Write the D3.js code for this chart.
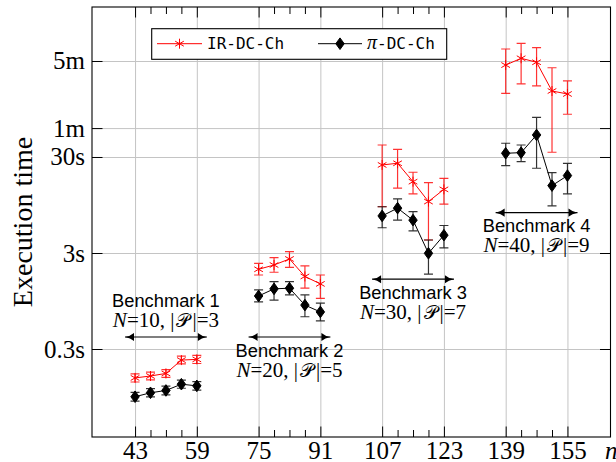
<!DOCTYPE html>
<html>
<head>
<meta charset="utf-8">
<script src="https://cdn.jsdelivr.net/npm/d3@7"></script>
<style>
  body { margin: 0; background: #fff; }
  svg { display: block; }
</style>
</head>
<body>
<svg id="chart" width="616" height="462"></svg>
<script>
/* global d3 */

// problem sizes n, one group of five per benchmark
const nValues = [
  [43, 47, 51, 55, 59],
  [75, 79, 83, 87, 91],
  [107, 111, 115, 119, 123],
  [139, 143, 147, 151, 155],
];

// IR-DC-Ch execution time in seconds (mean, lower and upper end of error bar)
const irMean = [
  [0.150, 0.157, 0.167, 0.230, 0.234],
  [2.03, 2.25, 2.60, 1.71, 1.43],
  [24.8, 25.8, 16.6, 10.3, 13.8],
  [272, 320, 291, 146, 136],
];
const irLow = [
  [0.136, 0.143, 0.152, 0.210, 0.212],
  [1.77, 1.89, 2.13, 1.29, 1.01],
  [9.1, 14.2, 12.4, 4.1, 9.7],
  [138, 173, 165, 33.6, 83.6],
];
const irHigh = [
  [0.165, 0.172, 0.183, 0.253, 0.258],
  [2.34, 2.68, 3.10, 2.20, 1.77],
  [40.0, 36.1, 20.8, 16.2, 18.0],
  [400, 458, 413, 255, 186],
];

// pi-DC-Ch execution time in seconds
const piMean = [
  [0.0955, 0.105, 0.111, 0.129, 0.124],
  [1.07, 1.27, 1.29, 0.86, 0.73],
  [7.3, 8.8, 6.6, 2.98, 4.6],
  [32.8, 33.3, 50.9, 15.1, 19.2],
];
const piLow = [
  [0.086, 0.095, 0.100, 0.117, 0.112],
  [0.93, 0.97, 1.10, 0.65, 0.59],
  [5.5, 6.6, 5.1, 1.81, 3.4],
  [24.4, 26.8, 22.9, 9.3, 12.4],
];
const piHigh = [
  [0.106, 0.116, 0.123, 0.142, 0.137],
  [1.24, 1.51, 1.51, 1.10, 0.90],
  [9.1, 11.0, 8.1, 4.1, 5.8],
  [41.7, 40.0, 77.7, 20.6, 25.8],
];

// benchmark annotations
const benchNames = ['Benchmark 1', 'Benchmark 2', 'Benchmark 3', 'Benchmark 4'];
const benchN = [10, 20, 30, 40];
const benchP = [3, 5, 7, 9];
const benchArrowAt = [0.4, 0.4, 1.6, 7.9]; // seconds
const benchLabelAbove = [true, false, false, false];

// axes
const xTicks = [43, 59, 75, 91, 107, 123, 139, 155];
const yTicks = [0.3, 3, 30, 60, 300];
const yTickLabels = ['0.3s', '3s', '30s', '1m', '5m'];

const serif = "'Liberation Serif', 'Times New Roman', serif";
const sans = "'Liberation Sans', Arial, sans-serif";
const mono = "'DejaVu Sans Mono', monospace";

const plot = { left: 92, right: 610.5, top: 7, bottom: 437 };
const majorLen = 10.5;
const minorLen = 7;

const svg = d3.select('#chart');

const x = d3.scaleLinear()
  .domain([31.85, 166.15])
  .range([plot.left, plot.right]);

const y = d3.scaleLog()
  .domain([0.03636, 1095])
  .range([plot.bottom, plot.top]);

const minorX = nValues.flat().filter(n => !xTicks.includes(n));

const asteriskPath = r => {
  const u = r * Math.sqrt(3) / 2;
  const t = r / 2;
  return `M0,${-r}V${r}M${-u},${-t}L${u},${t}M${-u},${t}L${u},${-t}`;
};
const diamondPath = (w, h) => `M0,${-h}L${w},0L0,${h}L${-w},0Z`;

const series = [
  { mean: irMean, low: irLow, high: irHigh, color: '#ff0000', marker: 'asterisk' },
  { mean: piMean, low: piLow, high: piHigh, color: '#000000', marker: 'diamond' },
];

// grid
const gridX = svg.append('g')
  .attr('class', 'grid')
  .attr('transform', `translate(0,${plot.bottom})`)
  .call(d3.axisBottom(x)
    .tickValues(xTicks)
    .tickSize(-(plot.bottom - plot.top))
    .tickFormat(''));

const gridY = svg.append('g')
  .attr('class', 'grid')
  .attr('transform', `translate(${plot.left},0)`)
  .call(d3.axisLeft(y)
    .tickValues(yTicks)
    .tickSize(-(plot.right - plot.left))
    .tickFormat(''));

[gridX, gridY].forEach(g => {
  g.select('.domain').remove();
  g.selectAll('line').attr('stroke', '#c4c4c4').attr('stroke-width', 1);
});

// ticks on all four sides, pointing inwards
const styleAxis = (g, fontSize) => {
  g.select('.domain').remove();
  g.selectAll('line').attr('stroke', '#000').attr('stroke-width', 1);
  g.selectAll('text')
    .attr('fill', '#000')
    .style('font-family', serif)
    .style('font-size', `${fontSize}px`);
};

svg.append('g')
  .attr('transform', `translate(0,${plot.bottom})`)
  .call(d3.axisBottom(x)
    .tickValues(xTicks)
    .tickSize(-majorLen)
    .tickPadding(4)
    .tickFormat(d3.format('d')))
  .call(g => styleAxis(g, 25));

svg.append('g')
  .attr('transform', `translate(0,${plot.bottom})`)
  .call(d3.axisBottom(x).tickValues(minorX).tickSize(-minorLen).tickFormat(''))
  .call(g => styleAxis(g, 25));

svg.append('g')
  .attr('transform', `translate(0,${plot.top})`)
  .call(d3.axisTop(x).tickValues(xTicks).tickSize(-majorLen).tickFormat(''))
  .call(g => styleAxis(g, 25));

svg.append('g')
  .attr('transform', `translate(0,${plot.top})`)
  .call(d3.axisTop(x).tickValues(minorX).tickSize(-minorLen).tickFormat(''))
  .call(g => styleAxis(g, 25));

svg.append('g')
  .attr('transform', `translate(${plot.left},0)`)
  .call(d3.axisLeft(y)
    .tickValues(yTicks)
    .tickSize(-majorLen)
    .tickPadding(7)
    .tickFormat((d, i) => yTickLabels[i]))
  .call(g => styleAxis(g, 25));

svg.append('g')
  .attr('transform', `translate(${plot.right},0)`)
  .call(d3.axisRight(y).tickValues(yTicks).tickSize(-majorLen).tickFormat(''))
  .call(g => styleAxis(g, 25));

// frame
svg.append('rect')
  .attr('x', plot.left)
  .attr('y', plot.top)
  .attr('width', plot.right - plot.left)
  .attr('height', plot.bottom - plot.top)
  .attr('fill', 'none')
  .attr('stroke', '#000')
  .attr('stroke-width', 1.1);

// series: error bars, line per benchmark, markers
const line = d3.line()
  .x(d => x(d.n))
  .y(d => y(d.mean));

series.forEach(s => {
  const g = svg.append('g').attr('class', 'series');
  nValues.forEach((ns, b) => {
    const rows = ns.map((n, i) => ({
      n, mean: s.mean[b][i], low: s.low[b][i], high: s.high[b][i],
    }));

    const bars = g.append('g')
      .attr('stroke', s.color)
      .attr('stroke-opacity', 0.8)
      .attr('stroke-width', 1.2);
    rows.forEach(d => {
      const cx = x(d.n);
      bars.append('path')
        .attr('fill', 'none')
        .attr('d', `M${cx},${y(d.high)}V${y(d.low)}`
          + `M${cx - 4.5},${y(d.high)}h9M${cx - 4.5},${y(d.low)}h9`);
    });

    g.append('path')
      .attr('fill', 'none')
      .attr('stroke', s.color)
      .attr('stroke-width', 1)
      .attr('d', line(rows));

    g.selectAll(null)
      .data(rows)
      .enter().append('path')
        .attr('transform', d => `translate(${x(d.n)},${y(d.mean)})`)
        .attr('d', s.marker === 'asterisk' ? asteriskPath(5) : diamondPath(4.2, 5.8))
        .attr('fill', s.marker === 'asterisk' ? 'none' : s.color)
        .attr('stroke', s.color)
        .attr('stroke-width', 1);
  });
});

// benchmark arrows and labels
const defs = svg.append('defs');
['start', 'end'].forEach(side => {
  defs.append('marker')
    .attr('id', `head-${side}`)
    .attr('viewBox', '0 -5 10 10')
    .attr('refX', 10)
    .attr('refY', 0)
    .attr('markerUnits', 'userSpaceOnUse')
    .attr('markerWidth', 10)
    .attr('markerHeight', 9)
    .attr('orient', side === 'start' ? 'auto-start-reverse' : 'auto')
    .append('path')
      .attr('d', 'M0,-4.5Q4,-1 10,0Q4,1 0,4.5Z')
      .attr('fill', '#000');
});

nValues.forEach((ns, b) => {
  const [lo, hi] = d3.extent(ns);
  const x0 = x(lo - 2.6);
  const x1 = x(hi + 2.6);
  const ay = y(benchArrowAt[b]);
  const cx = (x0 + x1) / 2;

  svg.append('line')
    .attr('x1', x0).attr('x2', x1)
    .attr('y1', ay).attr('y2', ay)
    .attr('stroke', '#000')
    .attr('stroke-width', 1.2)
    .attr('marker-start', 'url(#head-start)')
    .attr('marker-end', 'url(#head-end)');

  const nameY = benchLabelAbove[b] ? ay - 30 : ay + 19.5;
  const mathY = benchLabelAbove[b] ? ay - 10.5 : ay + 39.5;

  svg.append('text')
    .attr('x', cx)
    .attr('y', nameY)
    .attr('text-anchor', 'middle')
    .style('font-family', sans)
    .style('font-size', '18.3px')
    .text(benchNames[b]);

  // N=.., |P|=.. with a script P
  const math = svg.append('text')
    .attr('x', cx)
    .attr('y', mathY)
    .attr('text-anchor', 'middle')
    .style('font-family', serif)
    .style('font-size', '21px');
  math.append('tspan').style('font-style', 'italic').text('N');
  math.append('tspan').text(`=${benchN[b]}, |`);
  math.append('tspan').attr('dx', 2).style('font-size', '19px').text('\u{1D4AB}');
  math.append('tspan').attr('dx', 2).text(`|=${benchP[b]}`);
});

// axis labels
svg.append('text')
  .attr('transform', 'translate(32,222) rotate(-90)')
  .attr('text-anchor', 'middle')
  .style('font-family', serif)
  .style('font-size', '28px')
  .text('Execution time');

svg.append('text')
  .attr('x', 605)
  .attr('y', 459)
  .style('font-family', serif)
  .style('font-style', 'italic')
  .style('font-size', '25px')
  .text('n');

// legend
const legend = svg.append('g').attr('class', 'legend');
legend.append('rect')
  .attr('x', 151.7)
  .attr('y', 28.7)
  .attr('width', 295)
  .attr('height', 30.6)
  .attr('fill', '#fff')
  .attr('stroke', '#000')
  .attr('stroke-width', 1.1);

const legendItems = [
  { x0: 157, x1: 202, tx: 207, label: 'IR-DC-Ch', s: series[0] },
  { x0: 318, x1: 362, tx: 367, label: '-DC-Ch', s: series[1] },
];
legendItems.forEach((item, i) => {
  const ly = 43.7;
  legend.append('line')
    .attr('x1', item.x0).attr('x2', item.x1)
    .attr('y1', ly).attr('y2', ly)
    .attr('stroke', item.s.color)
    .attr('stroke-width', 1);
  legend.append('path')
    .attr('transform', `translate(${(item.x0 + item.x1) / 2},${ly})`)
    .attr('d', item.s.marker === 'asterisk' ? asteriskPath(5) : diamondPath(4.2, 5.8))
    .attr('fill', item.s.marker === 'asterisk' ? 'none' : item.s.color)
    .attr('stroke', item.s.color)
    .attr('stroke-width', 1);
  const t = legend.append('text')
    .attr('x', item.tx)
    .attr('y', 49)
    .style('font-family', mono)
    .style('font-size', '16px');
  if (i === 1) {
    t.append('tspan')
      .style('font-family', serif)
      .style('font-style', 'italic')
      .style('font-size', '20px')
      .text('\u03C0');
  }
  t.append('tspan').text(item.label);
});
</script>
</body>
</html>
